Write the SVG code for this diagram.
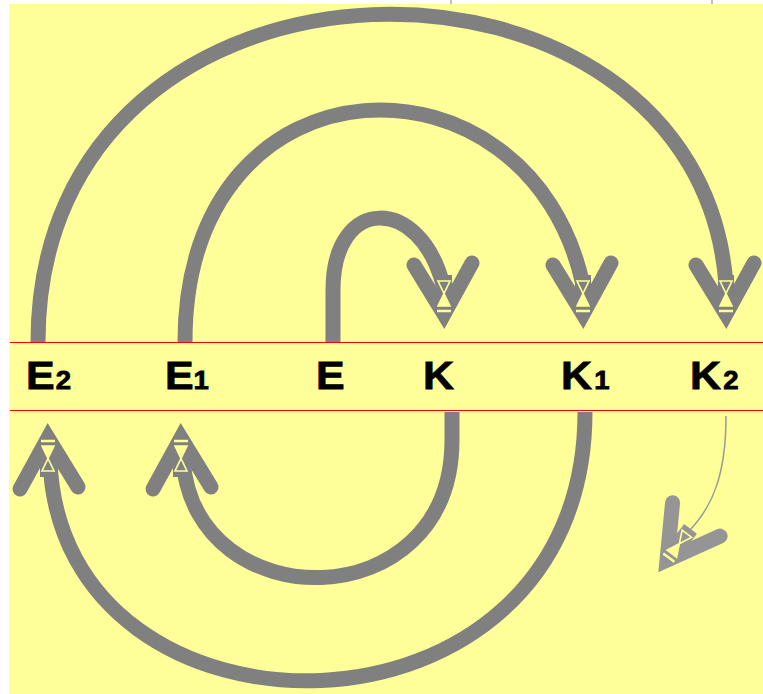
<svg xmlns="http://www.w3.org/2000/svg" xmlns:xlink="http://www.w3.org/1999/xlink" width="763" height="694" viewBox="0 0 763 694">
<style>
.arc{fill:none;stroke:#808080;stroke-width:15}
.thin{fill:none;stroke:#999999;stroke-width:1.5}
.red{stroke:#ff0000;stroke-width:1}
.lbl{font-family:"Liberation Sans",Arial,sans-serif;font-weight:bold;font-size:39px;fill:#000;stroke:#000;stroke-width:0.8}
.sub{font-size:25px}
</style>
<defs>
<g id="ah">
<path d="M -30,-64 L 0,-15 L 28,-66" fill="none" stroke-width="15" stroke-linecap="round" stroke-linejoin="miter"/>
<rect x="-8" y="-54" width="16" height="40" stroke="none"/>
<path d="M -6,-48 L 6,-48 L -6,-23 L 6,-23 Z" fill="none" stroke="#ffff99" stroke-width="1.6"/>
<path d="M 0,-35 L -6,-23 L 6,-23 Z" fill="#ffff99" stroke="none"/>
<line x1="-7" y1="-18" x2="7" y2="-18" stroke="#ffff99" stroke-width="2.5"/>
</g>
</defs>
<rect x="0" y="0" width="763" height="694" fill="#ffffff"/>
<rect x="9" y="4" width="754" height="690" fill="#ffff99"/>
<line x1="451" y1="0" x2="451" y2="4" stroke="#808080" stroke-width="1"/>
<line x1="712" y1="0" x2="712" y2="4" stroke="#808080" stroke-width="1"/>
<line class="red" x1="10" y1="342.5" x2="763" y2="342.5"/>
<line class="red" x1="10" y1="410.5" x2="763" y2="410.5"/>
<g id="connectors">
<path class="arc" d="M 38,342 C 38,-85 700,-85 726,285"/>
<path class="arc" d="M 185,342 C 185,46 530,40 583,285"/>
<path class="arc" d="M 333,342 L 333,290 C 333,195 420,195 443,285"/>
<path class="arc" d="M 452,412 L 452,440 C 452,620 195,620 183,460"/>
<path class="arc" d="M 585,412 C 585,762 60,762 50,460"/>
<path class="thin" d="M 726,416 C 726,470 715,505 688,532"/>
<use xlink:href="#ah" fill="#808080" stroke="#808080" transform="translate(444,329)"/>
<use xlink:href="#ah" fill="#808080" stroke="#808080" transform="translate(583,329)"/>
<use xlink:href="#ah" fill="#808080" stroke="#808080" transform="translate(726,329)"/>
<use xlink:href="#ah" fill="#808080" stroke="#808080" transform="translate(48,423) rotate(180)"/>
<use xlink:href="#ah" fill="#808080" stroke="#808080" transform="translate(181,423) rotate(180)"/>
<use xlink:href="#ah" fill="#959595" stroke="#959595" transform="translate(658,572) rotate(37)"/>
</g>
<g id="node-E2"><text class="lbl" transform="translate(26,389) scale(1.1,1)" x="0" y="0">E<tspan class="sub" dx="1">2</tspan></text></g>
<g id="node-E1"><text class="lbl" transform="translate(165,389) scale(1.1,1)" x="0" y="0">E<tspan class="sub" dx="0">1</tspan></text></g>
<g id="node-E"><text class="lbl" transform="translate(316,389) scale(1.1,1)" x="0" y="0">E</text></g>
<g id="node-K"><text class="lbl" transform="translate(423,389) scale(1.1,1)" x="0" y="0">K</text></g>
<g id="node-K1"><text class="lbl" transform="translate(561,389) scale(1.1,1)" x="0" y="0">K<tspan class="sub" dx="2">1</tspan></text></g>
<g id="node-K2"><text class="lbl" transform="translate(690,389) scale(1.1,1)" x="0" y="0">K<tspan class="sub" dx="2">2</tspan></text></g>
</svg>
